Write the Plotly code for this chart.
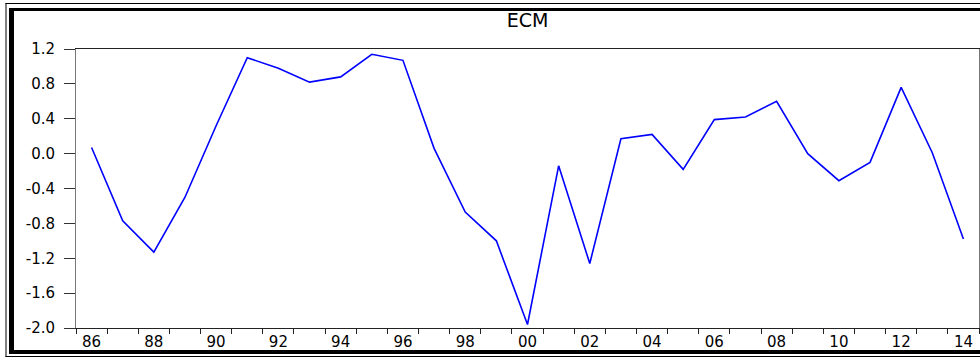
import plotly.graph_objects as go

# ECM residual series, annual 1986-2014
years = list(range(1986, 2015))
ecm = [0.07, -0.77, -1.13, -0.50, 0.32, 1.10, 0.98, 0.82, 0.88, 1.14,
       1.07, 0.06, -0.67, -1.00, -1.96, -0.14, -1.26, 0.17, 0.22, -0.18,
       0.39, 0.42, 0.60, 0.00, -0.31, -0.10, 0.76, 0.01, -0.98]

# axis labelling
x_tick_years = list(range(1986, 2015, 2))
x_tick_text = [f"{y % 100:02d}" for y in x_tick_years]
y_tick_vals = [1.2, 0.8, 0.4, 0.0, -0.4, -0.8, -1.2, -1.6, -2.0]
y_tick_text = ["1.2", "0.8", "0.4", "0.0", "-0.4", "-0.8", "-1.2", "-1.6", "-2.0"]

W, H = 980, 358
L, R, T, B = 76, 1, 49, 30
PW, PH = W - L - R, H - T - B


def px(x):
    return (x - L) / PW


def py(y):
    return (H - B - y) / PH


fig = go.Figure()
fig.add_trace(go.Scatter(
    x=years, y=ecm, mode="lines",
    line=dict(color="#0000ff", width=1.6),
    hoverinfo="x+y", showlegend=False,
))

# year bands: ticks on the boundaries, labels on every other year
boundaries = [y - 0.5 for y in years] + [years[-1] + 0.5]

font = dict(family="DejaVu Sans", size=15, color="black")

fig.update_layout(
    width=W, height=H,
    margin=dict(l=L, r=R, t=T, b=B, pad=0),
    paper_bgcolor="white", plot_bgcolor="white",
    title=dict(text="ECM", x=0.5, xref="paper", xanchor="center",
               y=1 - 20 / H, yref="container", yanchor="middle",
               font=dict(family="DejaVu Sans", size=19, color="black")),
    xaxis=dict(
        range=[years[0] - 0.5, years[-1] + 0.5],
        tickmode="array", tickvals=x_tick_years, ticktext=x_tick_text,
        ticks="", showgrid=False, zeroline=False,
        showline=True, linecolor="#222", linewidth=1, mirror=True,
        tickfont=font, ticklabelstandoff=0,
        minor=dict(tickmode="array", tickvals=boundaries, ticks="outside",
                   ticklen=5, tickwidth=1, tickcolor="#222", showgrid=False),
    ),
    yaxis=dict(
        range=[-2.0, 1.2],
        tickmode="array", tickvals=y_tick_vals, ticktext=y_tick_text,
        ticks="outside", ticklen=11, tickwidth=1, tickcolor="#333",
        showgrid=False, zeroline=False,
        showline=True, linecolor="#777", linewidth=1, mirror=True,
        tickfont=font, ticklabelstandoff=6,
    ),
)

# double frame around the graphic: thin outer rule, thick inner rule
frame = [
    # thin outer rule
    (5.5, 3, W + 5, 4),        # top
    (5.5, 3, 6.5, 357),        # left
    (5.5, 356, W + 5, 357),    # bottom
    # thick inner rule
    (9, 8, W + 5, 11),         # top
    (9, 8, 14, 354),           # left
    (9, 350, W + 5, 354),      # bottom
]
for x0, y0, x1, y1 in frame:
    fig.add_shape(type="rect", xref="paper", yref="paper",
                  x0=px(x0), x1=px(x1), y0=py(y1), y1=py(y0),
                  fillcolor="black", line=dict(width=0), layer="above")

fig.write_html("out.html")
